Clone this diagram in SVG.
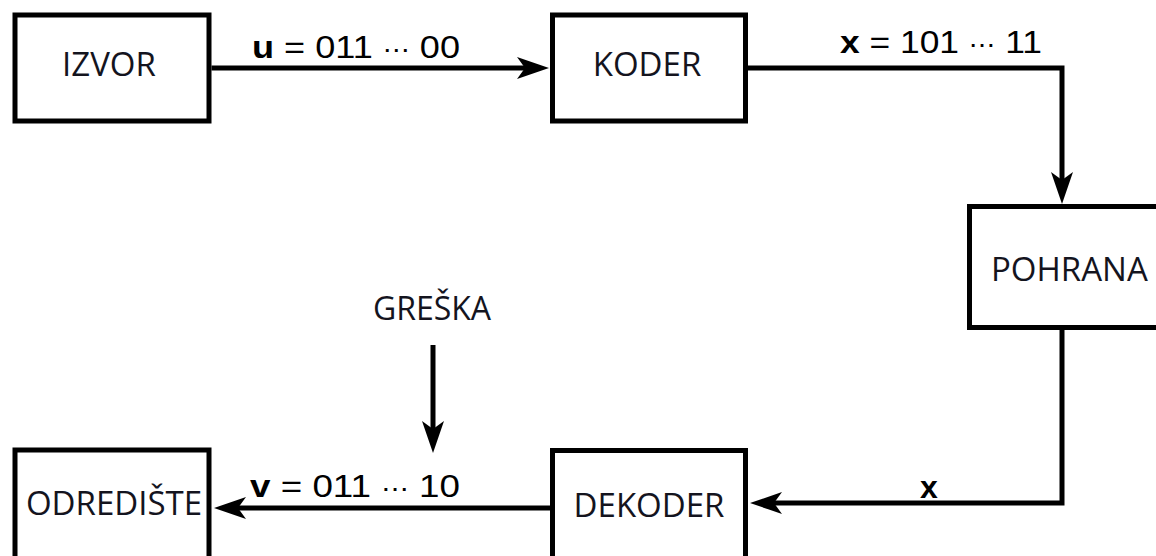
<svg xmlns="http://www.w3.org/2000/svg" width="1156" height="556" viewBox="0 0 1156 556">
  <style>
    .box { fill: #ffffff; stroke: #000000; stroke-width: 5; }
    .name { font-family: "Open Sans", "Noto Sans", sans-serif; font-size: 33px; fill: #14141e; }
    .lbl { font-family: "Liberation Sans", "DejaVu Sans", sans-serif; font-size: 32px; fill: #000000; }
    .b { font-weight: bold; }
    .dots { font-family: "DejaVu Sans", sans-serif; font-size: 24px; }
    .wire { fill: none; stroke: #000000; stroke-width: 5; stroke-linejoin: miter; marker-end: url(#head); }
  </style>
  <defs>
    <marker id="head" markerUnits="userSpaceOnUse" viewBox="0 -12 34 24" markerWidth="34" markerHeight="24" refX="20" refY="0" orient="auto">
      <path d="M0,-11 L32,0 L0,11 L8,0 Z" fill="#000000"/>
    </marker>
  </defs>
  <rect width="1156" height="556" fill="#ffffff"/>

  <g id="connectors">
    <path class="wire" d="M211.5,68 H537"/>
    <path class="wire" d="M748,68 H1062 V192"/>
    <path class="wire" d="M1062,330 V503 H762"/>
    <path class="wire" d="M550,508 H226"/>
    <path class="wire" d="M433,345 V441"/>
    <text class="lbl" x="252" y="58" textLength="208" lengthAdjust="spacingAndGlyphs"><tspan class="b">u</tspan> = 011 <tspan class="dots">⋯</tspan> 00</text>
    <text class="lbl" x="840" y="53" textLength="202" lengthAdjust="spacingAndGlyphs"><tspan class="b">x</tspan> = 101 <tspan class="dots">⋯</tspan> 11</text>
    <text class="lbl" x="250" y="497" textLength="210" lengthAdjust="spacingAndGlyphs"><tspan class="b">v</tspan> = 011 <tspan class="dots">⋯</tspan> 10</text>
    <text class="lbl b" x="929" y="498" text-anchor="middle" style="font-size:32px">x</text>
  </g>

  <g id="izvor">
    <rect class="box" x="15" y="15" width="194" height="106"/>
    <text class="name" x="109" y="76" text-anchor="middle">IZVOR</text>
  </g>
  <g id="koder">
    <rect class="box" x="552.5" y="15" width="193" height="106"/>
    <text class="name" x="647" y="76" text-anchor="middle">KODER</text>
  </g>
  <g id="pohrana">
    <rect class="box" x="969.5" y="206.5" width="200" height="121"/>
    <text class="name" x="991" y="281">POHRANA</text>
  </g>
  <g id="dekoder">
    <rect class="box" x="552.5" y="450.5" width="193" height="120"/>
    <text class="name" x="649" y="517" text-anchor="middle">DEKODER</text>
  </g>
  <g id="odrediste">
    <rect class="box" x="15" y="450" width="194" height="120"/>
    <text class="name" x="114" y="515" text-anchor="middle">ODREDIŠTE</text>
  </g>
  <g id="greska">
    <text class="name" x="432" y="320" text-anchor="middle" style="font-size:32px">GREŠKA</text>
  </g>
</svg>
